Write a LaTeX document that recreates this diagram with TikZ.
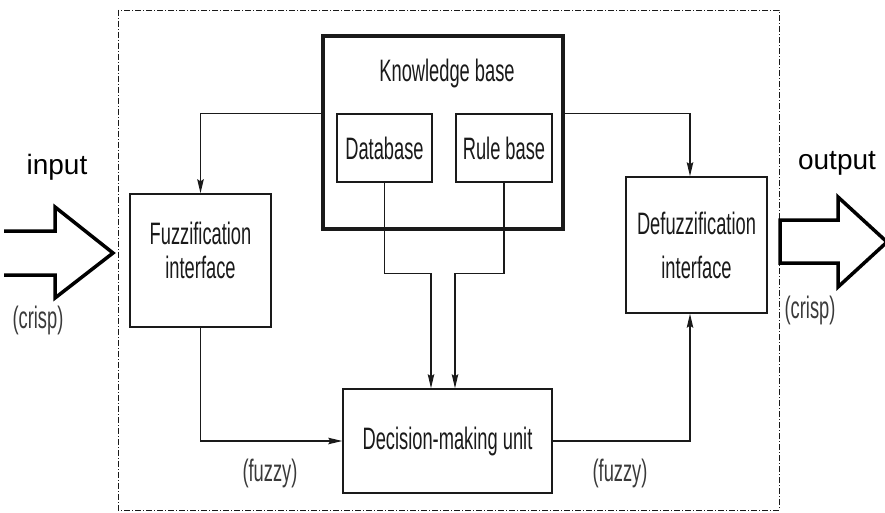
\documentclass[tikz,border=0pt]{standalone}
\usepackage{fontspec}
\setmainfont{Liberation Sans}
\newfontfamily\condfont{Liberation Sans}[FakeStretch=0.59]
\usepackage{xcolor}
\usetikzlibrary{arrows.meta}
\definecolor{FLInk}{HTML}{1A1A1A}
\definecolor{FLSoft}{HTML}{3A3A3A}

\begin{document}
\begin{tikzpicture}[
    x=1pt,y=-1pt,
    block/.style={draw=FLInk, line width=1.5pt, align=center, inner sep=0pt, font=\condfont\fontsize{31}{34}\selectfont, text=FLInk},
    kbase/.style={block, line width=3.5pt},
    title/.style={font=\condfont\fontsize{31}{34}\selectfont, text=FLInk, inner sep=0pt, align=center},
    note/.style={font=\condfont\fontsize{31}{34}\selectfont, text=FLSoft, inner sep=0pt},
    tag/.style={font=\fontsize{28}{30}\selectfont, text=black, inner sep=0pt},
    wire/.style={draw=FLInk, line width=1.3pt},
    link/.style={wire, -{Stealth[length=14pt,width=6.5pt,inset=2pt]}},
    bigarrow/.style={draw=black, line width=3.5pt, line join=miter},
    frame/.style={draw=FLInk, line width=0.9pt, dash pattern=on 6pt off 2pt on 1pt off 2pt}
  ]
    \useasboundingbox (0,0) rectangle (885,513);
    \draw[frame] (118,10) rectangle (779,510);

    \node[block, minimum width=141pt, minimum height=133pt] (fuzz) at (200.5,260.5) {};
    \node[title] (fuzzt) at (200.5,250) {Fuzzification\\interface};
    \node[kbase, minimum width=240pt, minimum height=193pt] (kb) at (443,132.5) {};
    \node[title] (kbt) at (447,73) {Knowledge base};
    \node[block, minimum width=95pt, minimum height=68pt] (db) at (384.5,148) {Database};
    \node[block, minimum width=96pt, minimum height=68pt] (rb) at (504,148) {Rule base};
    \node[block, minimum width=209pt, minimum height=104pt] (dmu) at (447.5,441) {Decision-making unit};
    \node[block, minimum width=141pt, minimum height=136pt] (defuzz) at (696.5,245) {Defuzzification\\[10pt]interface};

    \coordinate (dbin) at ([xshift=-16.5pt]dmu.north);
    \coordinate (rbin) at ([xshift=7.5pt]dmu.north);

    \draw[link] (kb.west |- db.north) -| (fuzz.north);
    \draw[link] (kb.east |- db.north) -| ([xshift=-6.5pt]defuzz.north);
    \draw[link] (db.south) -- ++(0,91) -| (dbin);
    \draw[link] (rb.south) -- ++(0,91) -| (rbin);
    \draw[link] (fuzz.south) |- (dmu.west);
    \draw[link] (dmu.east) -| ([xshift=-6.5pt]defuzz.south);

    \draw[bigarrow] (4,231) -- (55,231) -- (55,207) -- (113,253) -- (55,298) -- (55,275) -- (4,275);
    \draw[bigarrow] (780,220) -- (838,220) -- (838,197) -- (887,242) -- (838,287) -- (838,263) -- (780,263) -- cycle;

    \node[tag] (inlbl) at (57,167) {input};
    \node[tag] (outlbl) at (837,163) {output};
    \node[note] (crispin) at (38,320) {(crisp)};
    \node[note] (crispout) at (810,310) {(crisp)};
    \node[note] (fuzzyin) at (270,473) {(fuzzy)};
    \node[note] (fuzzyout) at (620,473) {(fuzzy)};
  \end{tikzpicture}
\end{document}
